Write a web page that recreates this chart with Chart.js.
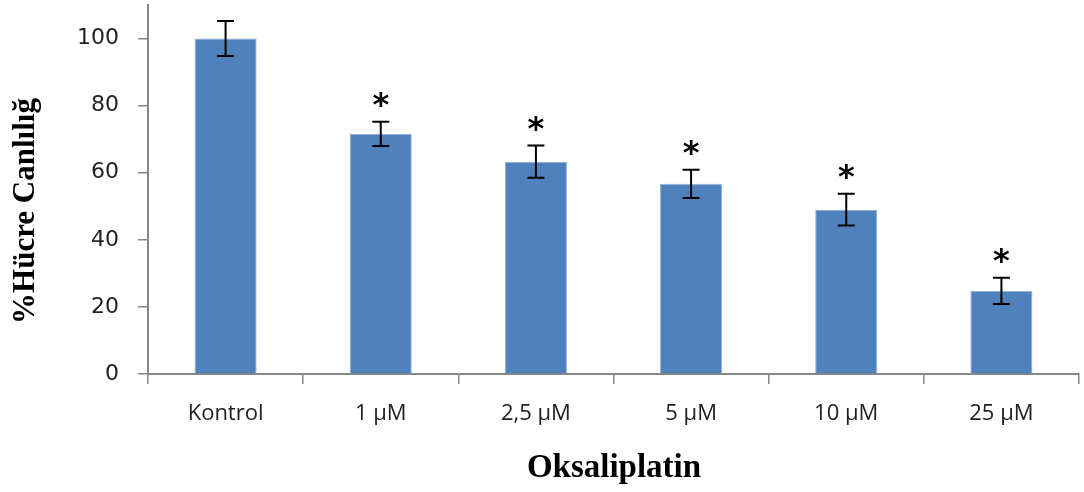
<!DOCTYPE html>
<html>
<head>
<meta charset="utf-8">
<script src="https://cdn.jsdelivr.net/npm/chart.js@4.4.1/dist/chart.umd.min.js"></script>
<style>
  html, body { margin: 0; padding: 0; background: #ffffff; }
  #wrap { width: 1084px; height: 492px; position: relative; }
</style>
</head>
<body>
<div id="wrap"><canvas id="c"></canvas></div>
<script>
const categories = ['Kontrol', '1 µM', '2,5 µM', '5 µM', '10 µM', '25 µM'];
const viability = [100, 71.6, 63.3, 56.7, 49.0, 24.8];
const errors = [5.2, 3.6, 4.8, 4.2, 4.7, 3.9];
const significant = [false, true, true, true, true, true];
const yTitle = '%Hücre Canlılığ';
const xTitle = 'Oksaliplatin';

const axisGray = '#868686';

const extrasPlugin = {
  id: 'extras',
  afterDatasetsDraw(chart) {
    const ctx = chart.ctx;
    const meta = chart.getDatasetMeta(0);
    const y = chart.scales.y;
    ctx.save();
    meta.data.forEach((bar, i) => {
      const x = bar.x;
      const top = y.getPixelForValue(viability[i] + errors[i]);
      const bot = y.getPixelForValue(viability[i] - errors[i]);
      ctx.strokeStyle = '#000';
      ctx.lineWidth = 2;
      ctx.beginPath();
      ctx.moveTo(x, top); ctx.lineTo(x, bot);
      ctx.moveTo(x - 8.5, top); ctx.lineTo(x + 8.5, top);
      ctx.moveTo(x - 8.5, bot); ctx.lineTo(x + 8.5, bot);
      ctx.stroke();
      if (significant[i]) {
        ctx.fillStyle = '#000';
        ctx.font = 'bold 32px "DejaVu Sans"';
        ctx.textAlign = 'center';
        ctx.textBaseline = 'middle';
        ctx.fillText('*', x, top - 15);
      }
    });
    ctx.restore();
  },
  afterDraw(chart) {
    const ctx = chart.ctx;
    ctx.save();
    ctx.fillStyle = '#000';
    ctx.textAlign = 'center';
    ctx.textBaseline = 'middle';
    ctx.font = 'bold 31px "Liberation Serif"';
    ctx.translate(26, 211);
    ctx.rotate(-Math.PI / 2);
    ctx.fillText(yTitle, 0, 0);
    ctx.restore();
    ctx.save();
    ctx.fillStyle = '#000';
    ctx.textAlign = 'center';
    ctx.textBaseline = 'middle';
    ctx.font = 'bold 33px "Liberation Serif"';
    ctx.fillText(xTitle, 614, 468);
    ctx.restore();
  }
};

new Chart(document.getElementById('c'), {
  type: 'bar',
  data: {
    labels: categories,
    datasets: [{
      data: viability,
      backgroundColor: '#4F81BD',
      borderColor: '#8FB0D8',
      borderWidth: 1,
      barPercentage: 0.4,
      categoryPercentage: 1.0
    }]
  },
  options: {
    responsive: true,
    maintainAspectRatio: false,
    devicePixelRatio: 1,
    animation: false,
    layout: { padding: { top: 5, right: 5, left: 0, bottom: 0 } },
    plugins: { legend: { display: false }, tooltip: { enabled: false } },
    scales: {
      x: {
        grid: { display: true, drawOnChartArea: false, drawTicks: true, tickLength: 10, color: axisGray, lineWidth: 1.5, offset: true },
        border: { display: true, color: axisGray, width: 2 },
        ticks: { color: '#222', font: { family: 'Open Sans', size: 22 }, padding: 17, maxRotation: 0 },
        afterFit(scale) { scale.height = 118; scale.paddingLeft = 0; scale.paddingRight = 0; }
      },
      y: {
        min: 0,
        max: 110,
        ticks: { stepSize: 20, color: '#222', font: { family: 'DejaVu Sans', size: 22 }, padding: 19 },
        afterBuildTicks(scale) { scale.ticks = scale.ticks.filter(t => t.value % 20 === 0); },
        grid: { display: true, drawOnChartArea: false, drawTicks: true, tickLength: 10, color: axisGray, lineWidth: 1.5 },
        border: { display: true, color: axisGray, width: 2 },
        afterFit(scale) { scale.width = 148; scale.paddingTop = 0; scale.paddingBottom = 0; }
      }
    }
  },
  plugins: [extrasPlugin]
});
</script>
</body>
</html>
